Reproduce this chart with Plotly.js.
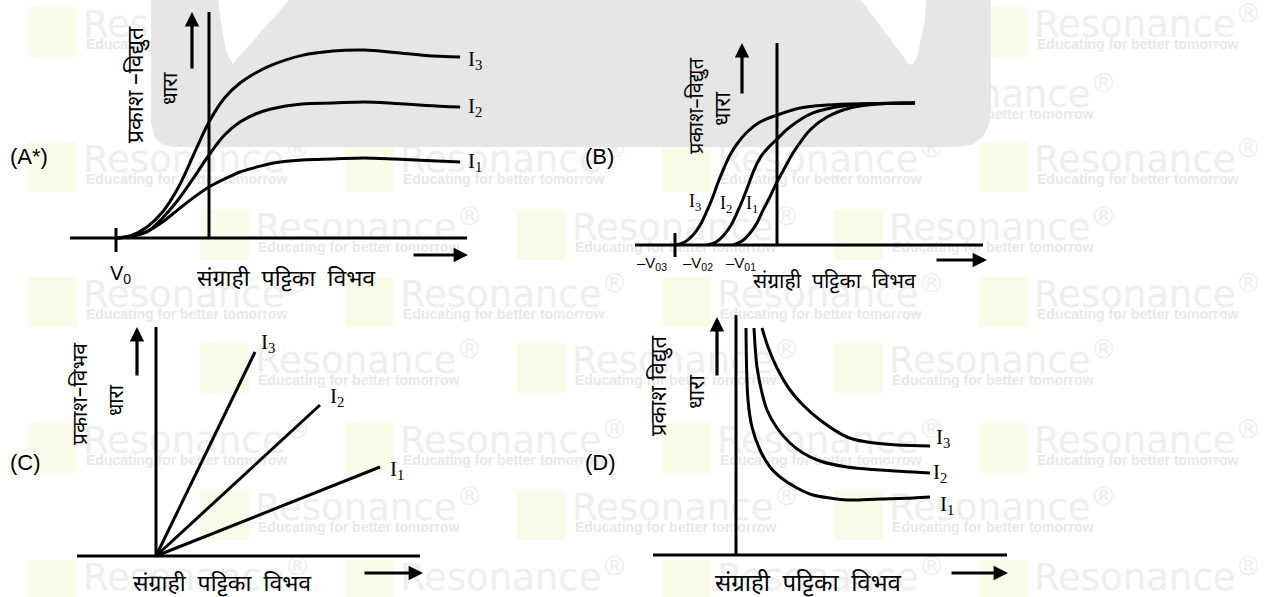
<!DOCTYPE html>
<html>
<head>
<meta charset="utf-8">
<script src="https://cdn.plot.ly/plotly-3.0.1.min.js"></script>
<style>
  html, body { margin: 0; padding: 0; background: #ffffff; }
  #chart { width: 1264px; height: 597px; }
</style>
</head>
<body>
<div id="chart"></div>
<script>
// Photo-current vs collector-plate potential for three intensities I1 < I2 < I3.

// (A*) same stopping potential V0, saturation current grows with intensity
const aV0 = -3;
const aVolt = [aV0, -2.5, -2, -1.5, -1, -0.5, 0, 0.5, 1, 1.5, 2, 3, 4, 5, 6, 7, 8.1];
const aI1 = [0, 0.09, 0.33, 0.8, 1.42, 2.02, 2.55, 2.95, 3.3, 3.53, 3.73, 3.9, 3.95, 4.0, 3.95, 3.88, 3.8];
const aI2 = [0, 0.09, 0.3, 1.0, 1.9, 3.0, 4.15, 5.15, 5.8, 6.2, 6.45, 6.7, 6.75, 6.8, 6.73, 6.63, 6.55];
const aI3 = [0, 0.13, 0.55, 1.3, 2.5, 4.15, 5.8, 7.0, 7.75, 8.25, 8.63, 9.13, 9.35, 9.4, 9.28, 9.13, 9.05];

// (B) different stopping potentials -V01, -V02, -V03, same saturation
const bVolt1 = [-1.29, -1.03, -0.79, -0.59, -0.41, -0.21, 0, 0.24, 0.47, 0.71, 0.97, 1.47, 2.15, 3.03, 4.06];
const bI1 = [0, 0.28, 0.85, 1.55, 2.46, 3.38, 4.44, 5.49, 6.48, 7.32, 8.10, 9.01, 9.65, 9.93, 10];
const bVolt2 = [-2.06, -1.79, -1.56, -1.35, -1.18, -1.0, -0.82, -0.65, -0.44, -0.21, 0, 0.38, 1.06, 1.94, 3.03, 4.06];
const bI2 = [0, 0.21, 0.70, 1.41, 2.25, 3.24, 4.37, 5.42, 6.34, 6.97, 7.46, 8.31, 9.30, 9.79, 9.96, 10];
const bVolt3 = [-3, -2.71, -2.47, -2.26, -2.09, -1.91, -1.74, -1.56, -1.38, -1.18, -0.88, -0.5, 0, 0.68, 1.47, 2.74, 4.06];
const bI3 = [0, 0.21, 0.70, 1.41, 2.25, 3.24, 4.37, 5.42, 6.34, 7.11, 7.96, 8.66, 9.15, 9.65, 9.86, 9.96, 10];
const bTickLabels = ['\u2013V<sub>01</sub>', '\u2013V<sub>02</sub>', '\u2013V<sub>03</sub>'];

// (C) straight lines through the origin
const cVoltEnd = [11.2, 8.2, 4.95];   // I1, I2, I3
const cCurrEnd = [4.45, 7.55, 10.2];

// (D) falling curves
const dVolt1 = [0.5, 0.6, 0.8, 1.2, 1.7, 2.2, 3.05, 3.85, 4.7, 5.55, 7.2, 8.85, 9.7];
const dI1 = [11.35, 7.75, 6.4, 5.25, 4.4, 3.9, 3.35, 3.0, 2.85, 2.75, 2.8, 2.85, 2.9];
const dVolt2 = [0.9, 1.05, 1.3, 1.55, 2.05, 2.7, 3.35, 4.2, 5.55, 7.2, 9.7];
const dI2 = [11.35, 9.4, 8.1, 7.25, 6.35, 5.6, 5.1, 4.7, 4.4, 4.25, 4.1];
const dVolt3 = [1.3, 1.6, 2.05, 2.7, 3.35, 4.2, 5.55, 6.55, 8.05, 9.7];
const dI3 = [11.35, 10.4, 9.35, 8.25, 7.5, 6.75, 5.9, 5.65, 5.5, 5.45];

const curveNames = ['I<sub>1</sub>', 'I<sub>2</sub>', 'I<sub>3</sub>'];
const xTitle = 'संग्राही  पट्टिका  विभव';

// ---------------------------------------------------------------------------
const W = 1264, H = 597;
const HINDI = 'Noto Sans Devanagari, Lohit Devanagari, FreeSans, Mangal, Noto Sans, sans-serif';
const SERIF = 'Liberation Serif, Times New Roman, serif';
const SANS = 'Liberation Sans, Arial, sans-serif';
const INK = '#000000';

// panel frames: pixel origin of the axes, pixels per unit, pixel box of the subplot
const panels = {
  A: {id: 3, ox: 209, oy: 238, sx: 31, sy: 20,   box: [55, 490, 4, 292],   hx: [70, 467],  vTop: 12},
  B: {id: 4, ox: 777, oy: 245, sx: 34, sy: 14.2, box: [620, 1000, 30, 275], hx: [635, 983], vTop: 43},
  C: {id: 5, ox: 156, oy: 556, sx: 20, sy: 20,   box: [60, 440, 315, 575], hx: [77, 420],  vTop: 327},
  D: {id: 6, ox: 736, oy: 555, sx: 20, sy: 20,   box: [640, 1020, 305, 575], hx: [653, 1007], vTop: 315}
};
const toX = (p, px) => (px - p.ox) / p.sx;
const toY = (p, py) => (p.oy - py) / p.sy;
const PX = px => px / W;
const PY = py => 1 - py / H;

const layout = {
  width: W, height: H,
  margin: {l: 0, r: 0, t: 0, b: 0, pad: 0},
  paper_bgcolor: '#ffffff',
  plot_bgcolor: 'rgba(0,0,0,0)',
  showlegend: false,
  hovermode: false,
  shapes: [],
  annotations: [],
  // page-sized frame for the background layer (watermark and grey tab)
  xaxis2: {domain: [0, 1], range: [0, W], visible: false, fixedrange: true, anchor: 'y2'},
  yaxis2: {domain: [0, 1], range: [H, 0], visible: false, fixedrange: true, anchor: 'x2'}
};
const traces = [];

// ---- background: tiled logo watermark -------------------------------------
const wmX = [], wmY = [], wmSubX = [], wmSubY = [];
function addLogo(left, top) {
  layout.shapes.push({type: 'rect', xref: 'x2', yref: 'y2', layer: 'below',
    x0: left, x1: left + 49, y0: top, y1: top + 50,
    fillcolor: '#fbfbe9', line: {width: 0}});
  wmX.push(left + 55); wmY.push(top + 21);
  wmSubX.push(left + 58); wmSubY.push(top + 38);
}
[7, 142, 277, 423, 560].forEach(t => { for (let k = 0; k < 4; k++) addLogo(28 + 317 * k, t); });
[77, 210, 343, 490].forEach(t => { for (let k = 0; k < 4; k++) addLogo(-117 + 317 * k, t); });

traces.push({type: 'scatter', mode: 'text', x: wmX, y: wmY, xaxis: 'x2', yaxis: 'y2',
  text: wmX.map(() => 'Resonance<sup>®</sup>'), textposition: 'middle right',
  textfont: {family: 'DejaVu Sans', size: 37, color: '#eeeeee'},
  marker: {size: 0}, cliponaxis: false, hoverinfo: 'skip'});
traces.push({type: 'scatter', mode: 'text', x: wmSubX, y: wmSubY, xaxis: 'x2', yaxis: 'y2',
  text: wmSubX.map(() => 'Educating for better tomorrow'), textposition: 'middle right',
  textfont: {family: SANS, size: 14, color: '#e8e8e8', weight: 'bold'},
  marker: {size: 0}, cliponaxis: false, hoverinfo: 'skip'});

// ---- grey tab behind the upper diagrams (drawn over the watermark) --------
function patch(outline, color) {
  traces.push({type: 'scatter', mode: 'lines', xaxis: 'x2', yaxis: 'y2', hoverinfo: 'skip',
    x: outline.map(q => q[0]), y: outline.map(q => q[1]),
    fill: 'toself', fillcolor: color, line: {width: 0, color: color}});
}
patch([[151, 0], [991, 0], [991, 110], [989, 125], [983, 137], [972, 145], [955, 147],
  [175, 147], [163, 145], [155, 138], [151, 123], [151, 0]], '#e6e6e6');
// two white notches cut into its top edge
patch([[218, -1], [222, 30], [226, 50], [229, 58], [233, 64], [237, 59], [290, -1], [218, -1]], '#ffffff');
patch([[860, -1], [904, 57], [908, 63], [911, 65], [914, 63], [917, 57], [921, 40],
  [925, 20], [926, -1], [860, -1]], '#ffffff');

// ---- panel frames ----------------------------------------------------------
Object.values(panels).forEach(p => {
  const [l, r, t, b] = p.box;
  layout['xaxis' + p.id] = {domain: [l / W, r / W], range: [toX(p, l), toX(p, r)],
    anchor: 'y' + p.id, visible: false, fixedrange: true};
  layout['yaxis' + p.id] = {domain: [1 - b / H, 1 - t / H], range: [toY(p, b), toY(p, t)],
    anchor: 'x' + p.id, visible: false, fixedrange: true};
  // axis lines
  layout.shapes.push({type: 'line', xref: 'x' + p.id, yref: 'y' + p.id, layer: 'below',
    x0: toX(p, p.hx[0]), x1: toX(p, p.hx[1]), y0: 0, y1: 0, line: {color: INK, width: 3}});
  layout.shapes.push({type: 'line', xref: 'x' + p.id, yref: 'y' + p.id, layer: 'below',
    x0: 0, x1: 0, y0: 0, y1: toY(p, p.vTop), line: {color: INK, width: 3}});
});

function curve(p, x, y, shape) {
  traces.push({type: 'scatter', mode: 'lines', x: x, y: y,
    xaxis: 'x' + p.id, yaxis: 'y' + p.id, hoverinfo: 'skip',
    line: {color: INK, width: 3, shape: shape || 'spline', smoothing: 1}});
}
function note(text, px, py, font, extra) {
  layout.annotations.push(Object.assign({text: text, xref: 'paper', yref: 'paper',
    x: PX(px), y: PY(py), xanchor: 'center', yanchor: 'middle', showarrow: false,
    font: font}, extra || {}));
}
function arrow(tipX, tipY, dx, dy) {
  layout.annotations.push({text: '', xref: 'paper', yref: 'paper', x: PX(tipX), y: PY(tipY),
    ax: dx, ay: dy, axref: 'pixel', ayref: 'pixel', showarrow: true,
    arrowhead: 2, arrowsize: 0.9, arrowwidth: 3.2, arrowcolor: INK, standoff: 0});
}
const labelFont = s => ({family: SERIF, size: s, color: INK});
const tagFont = {family: SANS, size: 22, color: INK};
const hindi = s => ({family: HINDI, size: s, color: INK});

// ---- (A*) -----------------------------------------------------------------
{
  const p = panels.A, ax = 'x' + p.id, ay = 'y' + p.id;
  curve(p, aVolt, aI1); curve(p, aVolt, aI2); curve(p, aVolt, aI3);
  layout.shapes.push({type: 'line', xref: ax, yref: ay, x0: aV0, x1: aV0,
    y0: toY(p, 252), y1: toY(p, 228), line: {color: INK, width: 3}});
  layout.annotations.push({text: 'V<sub>0</sub>', xref: ax, yref: ay, x: aV0, y: toY(p, 274),
    xanchor: 'center', yanchor: 'middle', showarrow: false, xshift: 4,
    font: {family: SANS, size: 20, color: INK}});
  note(curveNames[2], 475, 60, labelFont(21));
  note(curveNames[1], 475, 107, labelFont(21));
  note(curveNames[0], 475, 162, labelFont(21));
  note('(A*)', 29, 156, tagFont);
  note(xTitle, 286, 280, hindi(23));
  note('प्रकाश –विद्युत', 137, 85, hindi(23), {textangle: -90});
  note('धारा', 172, 89, hindi(21), {textangle: -90});
  arrow(192, 12, 0, 58);
  arrow(468, 255, -56, 0);
}

// ---- (B) ------------------------------------------------------------------
{
  const p = panels.B, ax = 'x' + p.id, ay = 'y' + p.id;
  curve(p, bVolt1, bI1); curve(p, bVolt2, bI2); curve(p, bVolt3, bI3);
  layout.shapes.push({type: 'line', xref: ax, yref: ay, x0: bVolt3[0], x1: bVolt3[0],
    y0: toY(p, 257), y1: toY(p, 233), line: {color: INK, width: 3}});
  [bVolt1[0], bVolt2[0], bVolt3[0]].forEach((v, i) => {
    layout.annotations.push({text: bTickLabels[i], xref: ax, yref: ay, x: v, y: toY(p, 263),
      xanchor: 'center', yanchor: 'middle', showarrow: false, xshift: [8, -9, -23][i],
      font: {family: SANS, size: 15, color: INK}});
  });
  note(curveNames[2], 695, 202, labelFont(18));
  note(curveNames[1], 726, 205, labelFont(18));
  note(curveNames[0], 752, 205, labelFont(18));
  note('(B)', 599, 156, tagFont);
  note(xTitle, 834, 283, hindi(21));
  note('प्रकाश–विद्युत', 697, 106, hindi(20), {textangle: -90});
  note('धारा', 725, 109, hindi(22), {textangle: -90});
  arrow(742, 43, 0, 52);
  arrow(987, 260, -52, 0);
}

// ---- (C) ------------------------------------------------------------------
{
  const p = panels.C;
  for (let i = 0; i < 3; i++) curve(p, [0, cVoltEnd[i]], [0, cCurrEnd[i]], 'linear');
  note(curveNames[2], 268, 343, labelFont(21));
  note(curveNames[1], 337, 397, labelFont(21));
  note(curveNames[0], 397, 470, labelFont(21));
  note('(C)', 25, 462, tagFont);
  note(xTitle, 222, 585, hindi(23));
  note('प्रकाश–विभव', 82, 394, hindi(21), {textangle: -90});
  note('धारा', 118, 400, hindi(20), {textangle: -90});
  arrow(137, 327, 0, 50);
  arrow(423, 573, -60, 0);
}

// ---- (D) ------------------------------------------------------------------
{
  const p = panels.D;
  curve(p, dVolt1, dI1); curve(p, dVolt2, dI2); curve(p, dVolt3, dI3);
  note(curveNames[2], 943, 438, labelFont(21));
  note(curveNames[1], 940, 473, labelFont(21));
  note(curveNames[0], 947, 505, labelFont(21));
  note('(D)', 600, 462, tagFont);
  note(xTitle, 808, 585, hindi(24));
  note('प्रकाश विद्युत', 660, 386, hindi(22), {textangle: -90});
  note('धारा', 698, 392, hindi(22), {textangle: -90});
  arrow(717, 317, 0, 60);
  arrow(1008, 573, -58, 0);
}

Plotly.newPlot('chart', traces, layout, {staticPlot: true, displayModeBar: false});
</script>
</body>
</html>
